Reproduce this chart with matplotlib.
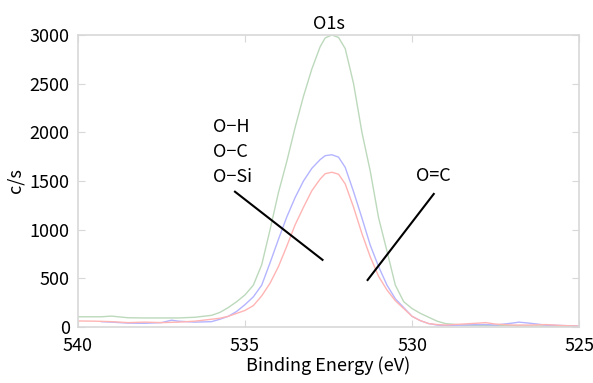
import numpy as np
import matplotlib
matplotlib.use("Agg")
import matplotlib.pyplot as plt

plt.rcParams['font.family'] = ['Noto Sans CJK JP', 'DejaVu Sans']

# O1s spectra (binding energy in eV, intensity in c/s)
energy = [540, 539.5, 539.3, 539, 538.5, 538, 537.5, 537.2, 537, 536.5, 536, 535.75,
          535.5, 535.25, 535, 534.75, 534.5, 534.25, 534, 533.75, 533.5, 533.25,
          533, 532.75, 532.6, 532.4, 532.2, 532, 531.75, 531.5, 531.25, 531,
          530.75, 530.5, 530.25, 530, 529.75, 529.5, 529.25, 529, 528.5, 528,
          527.8, 527.5, 527, 526.8, 526.5, 526, 525.5, 525]

green = [105, 105, 105, 112, 95, 93, 93, 93, 93, 100, 120, 150,
         200, 260, 330, 430, 640, 1000, 1380, 1700, 2050, 2370,
         2650, 2880, 2970, 3000, 2975, 2860, 2500, 2000, 1600, 1120,
         780, 430, 260, 190, 140, 100, 60, 35, 20, 15,
         15, 15, 15, 12, 10, 10, 8, 5]

blue = [np.nan, np.nan, 55, 50, 40, 38, 45, 70, 60, 50, 55, 80,
        110, 160, 230, 310, 430, 660, 900, 1130, 1330, 1500,
        1630, 1720, 1760, 1770, 1745, 1640, 1390, 1120, 840, 620,
        430, 290, 200, 110, 65, 35, 20, 15, 20, 25,
        25, 20, 40, 50, 40, 20, 15, 10]

red = [62, 60, 58, 55, 45, 50, 45, 48, 50, 60, 80, 90,
       110, 140, 170, 220, 320, 450, 620, 830, 1050, 1230,
       1400, 1520, 1575, 1590, 1570, 1470, 1230, 960, 720, 520,
       380, 270, 190, 110, 65, 35, 25, 20, 30, 40,
       45, 30, 20, 20, 20, 25, 15, 10]

# annotation pointer lines (eV, c/s)
line1_x = [535.3, 532.68]
line1_y = [1390, 690]
line2_x = [531.33, 529.35]
line2_y = [483, 1367]

fig = plt.figure(figsize=(5.93, 3.83), dpi=100)
ax = fig.add_axes([0.1315, 0.1462, 0.845, 0.7624])

ax.plot(energy, green, color='#bcd9bc', lw=1)
ax.plot(energy, blue, color='#b4b4ff', lw=1)
ax.plot(energy, red, color='#ffb4b4', lw=1)

ax.plot(line1_x, line1_y, color='black', lw=1.5)
ax.plot(line2_x, line2_y, color='black', lw=1.5)

fs = 13
ax.text(535.95, 2050, 'O\u2212H', fontsize=fs, va='center', ha='left')
ax.text(535.95, 1800, 'O\u2212C', fontsize=fs, va='center', ha='left')
ax.text(535.95, 1540, 'O\u2212Si', fontsize=fs, va='center', ha='left')
ax.text(529.35, 1550, 'O=C', fontsize=fs, va='center', ha='center')

ax.set_xlim(540, 525)
ax.set_ylim(0, 3000)
ax.set_xticks([540, 535, 530, 525])
ax.set_yticks([0, 500, 1000, 1500, 2000, 2500, 3000])

for s in ax.spines.values():
    s.set_color('#d8d8d8')
    s.set_linewidth(1.2)
ax.tick_params(direction='in', length=5, color='#d8d8d8', labelsize=fs,
               top=True, right=True)
ax.tick_params(axis='x', pad=7)
ax.tick_params(axis='y', pad=6)

ax.set_title('O1s', fontsize=fs, pad=4)
ax.set_xlabel('Binding Energy (eV)', fontsize=fs, labelpad=1)
ax.set_ylabel('c/s', fontsize=fs, labelpad=4)

fig.savefig('out.png', dpi=100)
